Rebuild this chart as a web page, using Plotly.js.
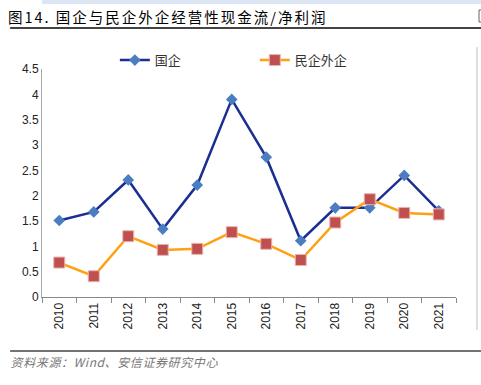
<!DOCTYPE html>
<html><head><meta charset="utf-8">
<script src="https://cdn.plot.ly/plotly-3.0.1.min.js"></script>
<style>html,body{margin:0;padding:0;background:#fff}#c{width:481px;height:385px}
g.annotation[data-index="0"] text{letter-spacing:2px}
g.annotation[data-index="1"] text{letter-spacing:0.6px}
</style>
</head><body><div id="c"></div>
<script>
var years = ['2010','2011','2012','2013','2014','2015','2016','2017','2018','2019','2020','2021'];
var soe = [1.51,1.68,2.31,1.34,2.21,3.90,2.76,1.11,1.76,1.76,2.40,1.70];
var privateForeign = [0.68,0.41,1.20,0.93,0.95,1.28,1.05,0.73,1.47,1.93,1.66,1.63];
var seriesNames = ['国企','民企外企'];
var yTicks = [0,0.5,1,1.5,2,2.5,3,3.5,4,4.5];
var yTickText = ['0','0.5','1','1.5','2','2.5','3','3.5','4','4.5'];
var titleText = '图14. 国企与民企外企经营性现金流/净利润';
var sourceText = '资料来源：Wind、安信证券研究中心';

var cjk = '"Noto Sans CJK SC", "Liberation Sans", Arial, sans-serif';
var traces = [
  {x: years, y: soe, name: seriesNames[0], type: 'scatter', mode: 'lines+markers',
   line: {color: '#1B2E91', width: 2.5}, legend: 'legend',
   marker: {symbol: 'diamond', size: 9, color: '#4A7EC0'}},
  {x: years, y: privateForeign, name: seriesNames[1], type: 'scatter', mode: 'lines+markers',
   line: {color: '#FFA10F', width: 2.5}, legend: 'legend2',
   marker: {symbol: 'square', size: 11, color: '#C0504D', line: {color: '#E8B4B2', width: 1}}}
];
var legFont = {family: cjk, size: 13, color: '#333'};
var layout = {
  width: 481, height: 385,
  margin: {l: 42, r: 25, t: 69, b: 88},
  paper_bgcolor: '#fff', plot_bgcolor: '#fff',
  showlegend: true,
  legend: {orientation: 'h', x: 0.176, xanchor: 'left', y: 1.039, yanchor: 'middle',
    bgcolor: 'rgba(0,0,0,0)', font: legFont},
  legend2: {orientation: 'h', x: 0.514, xanchor: 'left', y: 1.039, yanchor: 'middle',
    bgcolor: 'rgba(0,0,0,0)', font: legFont},
  xaxis: {type: 'category', range: [-0.5, 11.5], showgrid: false, zeroline: false,
    showline: true, linecolor: '#888', linewidth: 1,
    ticks: 'outside', tickson: 'boundaries', ticklen: 5, tickcolor: '#888',
    tickangle: -90, tickfont: {family: 'Liberation Sans, Arial, sans-serif', size: 12, color: '#222'}, fixedrange: true},
  yaxis: {range: [0, 4.5], tickvals: yTicks, ticktext: yTickText, showgrid: false, zeroline: false,
    showline: true, linecolor: '#aaa', linewidth: 1, ticks: '',
    tickfont: {family: 'Liberation Sans, Arial, sans-serif', size: 12, color: '#222'}, fixedrange: true},
  shapes: [
    {type: 'rect', xref: 'paper', yref: 'paper', x0: 0, x1: 1.07, y0: 1.285, y1: 1.31, line: {width: 0}, fillcolor: '#DCE6F4'},
    {type: 'line', xref: 'paper', yref: 'paper', x0: -0.077, x1: 1.07, y0: 1.18, y1: 1.18, line: {color: '#444', width: 2}},
    {type: 'rect', xref: 'paper', yref: 'paper', x0: 1.0556, x1: 1.08, y0: 1.206, y1: 1.259, line: {color: '#666', width: 1}, fillcolor: 'rgba(0,0,0,0)'},
    {type: 'line', xref: 'paper', yref: 'paper', x0: -0.077, x1: 1.07, y0: -0.237, y1: -0.237, line: {color: '#444', width: 1.5}},
    {type: 'line', xref: 'paper', yref: 'paper', x0: 1.0507, x1: 1.0507, y0: -0.145, y1: 1.096, line: {color: '#bbb', width: 1}}
  ],
  annotations: [
    {text: titleText, xref: 'paper', yref: 'paper', x: -0.033, y: 1.232, xanchor: 'left', yanchor: 'middle', showarrow: false,
     font: {family: cjk, size: 14.5, color: '#000'}},
    {text: sourceText, xref: 'paper', yref: 'paper', x: -0.067, y: -0.285, xanchor: 'left', yanchor: 'middle', showarrow: false,
     font: {family: '"Noto Sans CJK SC", sans-serif', size: 12, color: '#777', style: 'italic'}}
  ]
};
Plotly.newPlot('c', traces, layout, {displayModeBar: false, staticPlot: true});
</script></body></html>
